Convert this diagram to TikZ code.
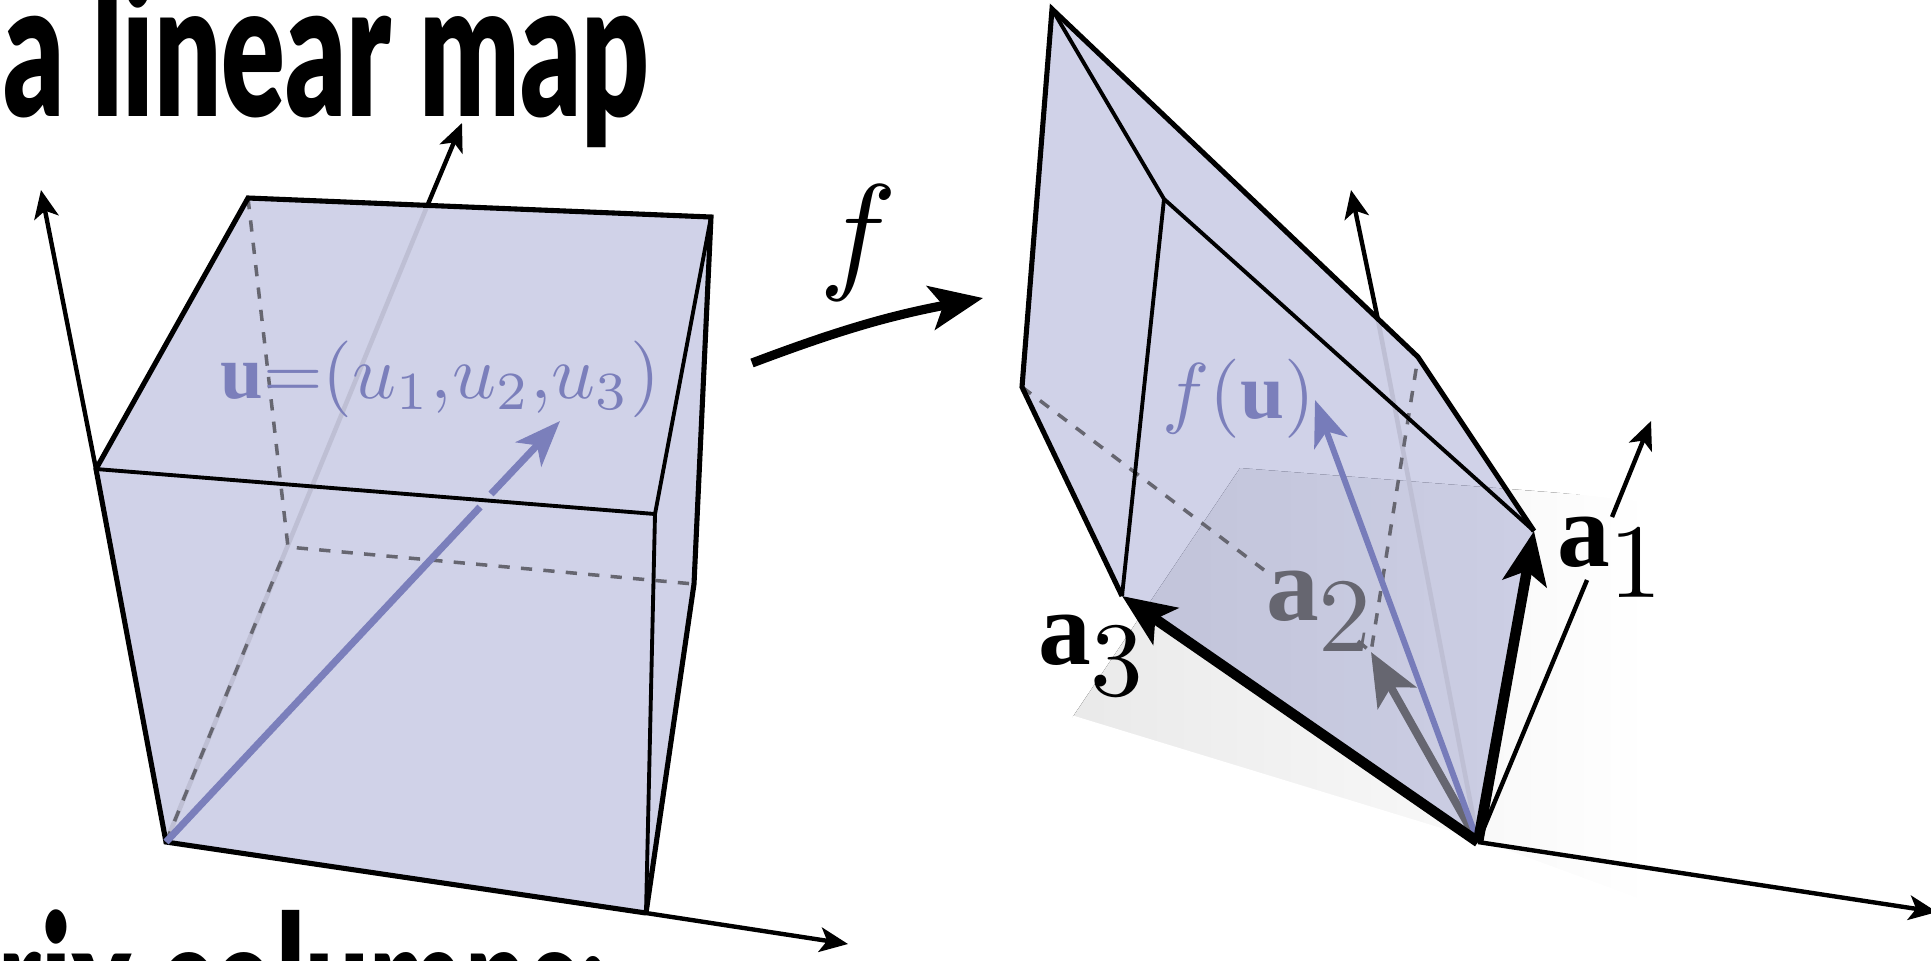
\documentclass[tikz,border=0pt]{standalone}
\usepackage{amsmath,amssymb}
\usepackage{fontspec}
\usepackage{tikz}
\usetikzlibrary{arrows.meta}
\usepackage{xcolor}
\newfontfamily\headfont[BoldFont={Lato Black}]{Lato}
\newfontfamily\vecfont{Liberation Serif}
\newcommand{\vbold}[1]{\text{\vecfont\bfseries #1}}
\definecolor{cubeblue}{RGB}{98,105,178}
\definecolor{labelblue}{RGB}{123,127,187}
\definecolor{dashgray}{RGB}{102,102,112}
\definecolor{ghostgray}{RGB}{190,191,212}
\tikzset{
  axisline/.style={line width=1.25pt,-{Stealth[length=8pt,width=7pt,inset=2pt]}},
  solidedge/.style={line width=1.45pt,line join=miter},
  inneredge/.style={line width=1.1pt},
  hiddenedge/.style={line width=1pt,dashgray,dash pattern=on 3.2pt off 3.2pt},
  ghostaxis/.style={line width=1.3pt,ghostgray},
  bigarrow/.style={line width=3pt,-{Stealth[length=15pt,width=12.5pt,inset=3.5pt]}},
  bluearrow/.style={line width=2pt,labelblue,-{Stealth[length=13pt,width=10pt,inset=3.5pt]}},
  boxface/.style={fill=cubeblue,fill opacity=0.3,draw=none},
  headline/.style={anchor=base west,inner sep=0pt,font=\headfont\bfseries\fontsize{54}{60}\selectfont},
}
\begin{document}
\begin{tikzpicture}[x=0.01cm,y=-0.01cm,line cap=butt]
\useasboundingbox (0,0) rectangle (1931,960);
\clip (0,0) rectangle (1931,960);
% left box
\coordinate (bo) at (166,842);
\coordinate (bx) at (646,913);
\coordinate (bz) at (96,469);
\coordinate (bt) at (248,198);
\coordinate (br) at (711,217);
\coordinate (bf) at (655,514);
\coordinate (bs) at (694,584);
\coordinate (bh) at (288,547);
\coordinate (bgap) at (281,561);
\coordinate (btop) at (428,204);
\coordinate (xtip) at (848,944);
\coordinate (ytip) at (462,123);
\coordinate (ztip) at (41,190);
\coordinate (ugapa) at (480,507);
\coordinate (ugapb) at (491,494);
\coordinate (utip) at (560,421);
% right box
\coordinate (ro) at (1478,842);
\coordinate (rp) at (1052,9);
\coordinate (rq) at (1164,199);
\coordinate (rr) at (1418,357);
\coordinate (rs) at (1534,531);
\coordinate (rt) at (1122,596);
\coordinate (ru) at (1022,387);
\coordinate (rh) at (1371,652);
\coordinate (rdasha) at (1264,570);
\coordinate (rdashb) at (1358,641);
\coordinate (rtop) at (1378,320);
\coordinate (rxtip) at (1937,912);
\coordinate (rytip) at (1351,190);
\coordinate (rzgapa) at (1587,580);
\coordinate (rzgapb) at (1612,517);
\coordinate (rztip) at (1651,421);
\coordinate (futip) at (1315,400);
\coordinate (ftail) at (752,363);
\coordinate (fhead) at (983,298);
% shadow under the right box
\fill[left color=gray!17,right color=white] (1240,468) -- (1072,718) -- (ro) -- (1650,905) -- (1650,500) -- cycle;
\draw[white,line width=1.5pt] (1072,718) -- (ro) -- (1650,905) -- (1650,500) -- (1500,483);
% left box faces
\path[boxface] (bo) -- (bx) -- (bs) -- (br) -- (bt) -- (bz) -- cycle;
\draw[ghostaxis] (bo) -- (btop);
\draw[hiddenedge] (bt) -- (bh) -- (bs);
\draw[hiddenedge] (bo) -- (bgap);
\draw[axisline] (btop) -- (ytip);
\draw[axisline] (bz) -- (ztip);
\draw[axisline] (bx) -- (xtip);
\draw[solidedge] (bx) -- (bo) -- (bz) -- (bt) -- (br) -- (bs) -- (bx);
\draw[inneredge] (bz) -- (bf) -- (br);
\draw[inneredge] (bf) -- (bx);
\draw[labelblue,line width=2pt] (bo) -- (ugapa);
\draw[bluearrow] (ugapb) -- (utip);
\node[labelblue,scale=2.18,inner sep=0pt,anchor=base west] (ulabel) at (219,398) {$\vbold{u}{=}(u_1{,}u_2{,}u_3)$};
% map arrow
\draw[bigarrow,line width=2.6pt] (ftail) to[bend left=5] (fhead);
\node[scale=3.7,inner sep=0pt,anchor=base] (flabel) at (858,275) {$f$};
% right box faces
\path[boxface] (rp) -- (rr) -- (rs) -- (ro) -- (rt) -- (ru) -- cycle;
\draw[ghostaxis] (ro) -- (rtop);
\draw[axisline] (rtop) -- (rytip);
\draw[hiddenedge] (ru) -- (rdasha);
\draw[hiddenedge] (rdashb) -- (rh) -- (rr);
\draw[solidedge] (rs) -- (rr) -- (rp) -- (ru) -- (rt);
\draw[inneredge] (rp) -- (rq) -- (rs);
\draw[inneredge] (rq) -- (rt);
\draw[axisline,-] (ro) -- (rzgapa);
\draw[axisline] (rzgapb) -- (rztip);
\draw[axisline] (ro) -- (rxtip);
\draw[bigarrow,dashgray,line width=2.3pt] (ro) -- (rh);
\draw[bluearrow,line width=1.7pt,color=labelblue!85!cubeblue] (ro) -- (futip);
\draw[bigarrow] (ro) -- (rs);
\draw[bigarrow] (ro) -- (rt);
\node[labelblue,scale=2.25,inner sep=0pt,anchor=base west] (fulabel) at (1161,418) {$f(\vbold{u})$};
\node[scale=3,inner sep=0pt,anchor=base west] (aone) at (1555,566) {$\vbold{a}_{\textstyle 1}$};
\node[scale=3,inner sep=0pt,anchor=base west,dashgray] (atwo) at (1264,620) {$\vbold{a}_{\textstyle 2}$};
\node[scale=3,inner sep=0pt,anchor=base west] (athree) at (1036,664) {$\vbold{a}_{\textstyle 3}$};
% headings, cut off by the page
\node[headline,xscale=0.623] (htop) at (3,116) {a linear map};
\node[headline,xscale=0.59] (hbot) at (-2,1052) {rix columns:};
\end{tikzpicture}
\end{document}
